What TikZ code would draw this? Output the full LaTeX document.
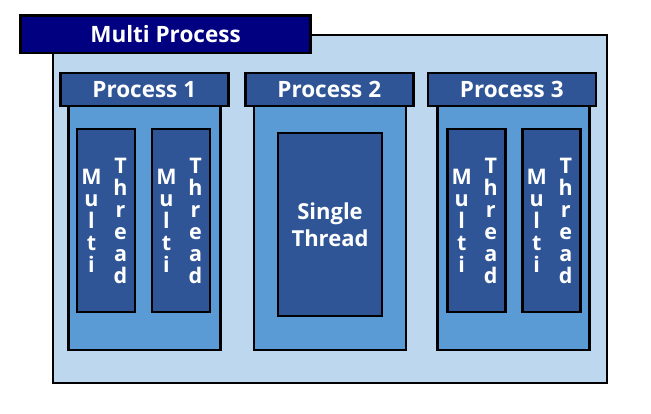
\documentclass[tikz,border=0pt]{standalone}
\usepackage{fontspec}
\setmainfont{Open Sans}
\usepackage{xcolor}
\usepackage{tikz}
\usetikzlibrary{positioning}

\definecolor{navyblue}{HTML}{000080}
\definecolor{lightblue}{HTML}{BDD7EE}
\definecolor{midblue}{HTML}{5B9BD5}
\definecolor{darkblue}{HTML}{2F5597}

\begin{document}
\begin{tikzpicture}[x=1pt, y=-1pt,
    box/.style={draw=black, line width=2.5pt, inner sep=0pt},
    title/.style={box, fill=navyblue, text=white, font=\fontsize{22.5}{25}\selectfont\bfseries},
    header/.style={box, fill=darkblue, text=white, minimum width=168pt, minimum height=33pt,
                   font=\fontsize{22.5}{25}\selectfont\bfseries},
    body/.style={box, fill=midblue, minimum width=152pt, minimum height=244pt},
    thread/.style={box, fill=darkblue, minimum width=58pt, minimum height=183pt},
    letters/.style={text=white, align=center, inner sep=0pt,
                    font=\fontsize{21.5}{22}\selectfont\bfseries}]
    \useasboundingbox (0,0) rectangle (651,413);
    % Module Multi Process
    \node[box, fill=lightblue, minimum width=554pt, minimum height=348pt] (outer) at (330,209) {};
    \node[title, minimum width=290pt, minimum height=37.5pt] (mp) at (165.5,34.25) {Multi Process};
    % Process 1
    \node[body] (b1) at (144.5,228) {};
    \node[header] (p1) at (144.25,89.5) {Process 1};
    \node[thread] (t11) at (106,220.5) {};
    \node[thread] (t12) at (181,220.5) {};
    \node[letters] (t11m) at ([xshift=-14.5pt]t11.center) {M\\u\\l\\t\\i};
    \node[letters] (t11t) at ([xshift=14.5pt]t11.center) {T\\h\\r\\e\\a\\d};
    \node[letters] (t12m) at ([xshift=-14.5pt]t12.center) {M\\u\\l\\t\\i};
    \node[letters] (t12t) at ([xshift=14.5pt]t12.center) {T\\h\\r\\e\\a\\d};
    % Process 2
    \node[body] (b2) at (330,228) {};
    \node[header] (p2) at (329.25,89.5) {Process 2};
    \node[box, fill=darkblue, minimum width=104pt, minimum height=183pt, text=white, align=center,
          font=\fontsize{22}{27}\selectfont\bfseries] (t21) at (330,224.5) {Single\\Thread};
    % Process 3
    \node[body] (b3) at (513.25,228) {};
    \node[header] (p3) at (511.75,89.5) {Process 3};
    \node[thread] (t31) at (476.25,220.5) {};
    \node[thread] (t32) at (551.25,220.5) {};
    \node[letters] (t31m) at ([xshift=-14.5pt]t31.center) {M\\u\\l\\t\\i};
    \node[letters] (t31t) at ([xshift=14.5pt]t31.center) {T\\h\\r\\e\\a\\d};
    \node[letters] (t32m) at ([xshift=-14.5pt]t32.center) {M\\u\\l\\t\\i};
    \node[letters] (t32t) at ([xshift=14.5pt]t32.center) {T\\h\\r\\e\\a\\d};
\end{tikzpicture}
\end{document}
